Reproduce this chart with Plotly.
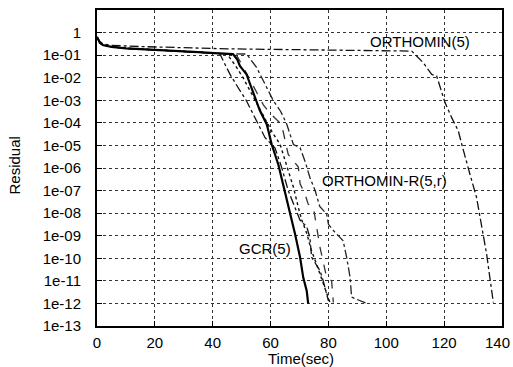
import plotly.graph_objects as go

# Shared start (all cluster runs)
t_head = [0, 1, 2, 5, 10, 15, 25, 35, 42]
r_head = [0.631, 0.355, 0.282, 0.234, 0.2, 0.182, 0.158, 0.135, 0.120]

# GCR(5) - solid thick
t_gcr = [47, 48.5, 49.4, 51.7, 52.9, 54.6, 56.3, 58.7, 60.4, 62.7, 64.4, 65.6, 67.3, 68.4, 70.2, 71.3, 72.5, 73]
r_gcr = [0.112, 6.3e-2, 3.3e-2, 1.4e-2, 5.1e-3, 1.3e-3, 3.5e-4, 8.5e-5, 1.1e-5, 1.4e-6, 1.9e-7, 3.5e-8, 6.3e-9, 1.3e-9, 1.1e-10, 1.4e-11, 3.6e-12, 1e-12]

# ORTHOMIN-R(5,r) variants
t_b = [42.5, 44.8, 46, 48.8, 51.7, 54, 56.3, 58.1, 61.5, 63.8, 66.1, 68.4, 70.2, 72.5, 73.6, 74.2, 77.1, 78.2, 80]
r_b = [0.112, 2.8e-2, 1.4e-2, 3.6e-3, 9.3e-4, 2.4e-4, 6.2e-5, 2.2e-5, 7.9e-6, 1.1e-6, 1e-7, 1.8e-8, 4.8e-9, 2.5e-9, 8.3e-10, 1.1e-10, 2.8e-11, 1e-11, 1.3e-12]

t_c = [45, 48, 50.5, 53, 55.5, 58, 60.5, 63.3, 65.6, 67.9, 69.6, 70.8, 72.5, 74, 76, 77.5, 79, 80.5]
r_c = [0.112, 3.2e-2, 1e-2, 2.5e-3, 6.3e-4, 1.6e-4, 4e-5, 1.1e-5, 1.1e-6, 1.4e-7, 1.8e-8, 4.8e-9, 1.3e-9, 2.5e-10, 5e-11, 1.3e-11, 4e-12, 1.1e-12]

t_d = [48, 50, 52.5, 55, 57.5, 60, 63.8, 66.1, 69.6, 70.2, 71.9, 73, 74.8, 77.1, 79.4, 81.1, 81.7]
r_d = [0.112, 4e-2, 1e-2, 2.5e-3, 6.3e-4, 2.5e-4, 8.5e-5, 4e-6, 1.1e-6, 2e-7, 7.1e-8, 2.5e-8, 1.8e-8, 3e-10, 1.4e-11, 1e-11, 1.1e-12]

t_e = [51.7, 55.2, 58.7, 61, 63.5, 65.6, 67.9, 70.2, 71.9, 73.6, 75.4, 77, 79.4, 80, 81.7, 85.1, 86.3, 87.5, 88, 90.9, 93.2]
r_e = [0.112, 2.8e-2, 3.6e-3, 9.3e-4, 3.2e-4, 8.7e-5, 1.1e-5, 7.9e-6, 2e-6, 3.8e-7, 1e-7, 2e-8, 9.1e-9, 3.2e-9, 1.7e-9, 5.9e-10, 1.1e-10, 1.4e-11, 1.9e-12, 1.3e-12, 1e-12]

# ORTHOMIN(5)
t_orth = [0, 1, 2, 5, 15, 30, 45, 70, 100, 108.8, 112.8, 115.7, 117.4, 118.6, 120.3, 122.6, 124.9, 126.1, 127.8, 128.9, 131.2, 132.4, 133.5, 134.7, 135.8, 137.0]
r_orth = [0.631, 0.4, 0.316, 0.27, 0.24, 0.21, 0.19, 0.174, 0.158, 0.151, 4.6e-2, 1.4e-2, 1.2e-2, 3.6e-3, 7.9e-4, 1.7e-4, 4.4e-5, 1.1e-5, 2e-6, 5.4e-7, 5e-8, 6.5e-9, 1e-9, 1.5e-10, 1.4e-11, 1.1e-12]

y_tickvals = [1e-13, 1e-12, 1e-11, 1e-10, 1e-9, 1e-8, 1e-7, 1e-6, 1e-5, 1e-4, 1e-3, 1e-2, 1e-1, 1]
y_ticktext = ["1e-13", "1e-12", "1e-11", "1e-10", "1e-09", "1e-08", "1e-07", "1e-06", "1e-05", "1e-04", "1e-03", "1e-02", "1e-01", "1"]
x_tickvals = [0, 20, 40, 60, 80, 100, 120, 140]
x_ticktext = ["0", "20", "40", "60", "80", "100", "120", ""]
x_last_label = "140"

fig = go.Figure()

def add(t, r, name, color, width, dash):
    fig.add_trace(go.Scatter(x=t, y=r, mode="lines", name=name,
                             line=dict(color=color, width=width, dash=dash)))

add(t_orth, r_orth, "ORTHOMIN(5)", "#111", 1.3, "dashdot")
add(t_head + t_e, r_head + r_e, "ORTHOMIN-R(5,r) a", "#222", 1.3, "dashdot")
add(t_head + t_d, r_head + r_d, "ORTHOMIN-R(5,r) b", "#333", 1.3, "dash")
add(t_head + t_c, r_head + r_c, "ORTHOMIN-R(5,r) c", "#111", 1.4, "dot")
add(t_head + t_b, r_head + r_b, "ORTHOMIN-R(5,r) d", "#111", 1.3, "dashdot")
add(t_head + t_gcr, r_head + r_gcr, "GCR(5)", "#000", 2.2, "solid")

font = dict(family="Liberation Sans, Arial, sans-serif", size=15, color="#000")

pw, ph = 513 - 97 - 11, 367 - 8 - 41

fig.update_layout(
    width=513, height=367,
    margin=dict(l=97, r=11, t=8, b=41),
    paper_bgcolor="white", plot_bgcolor="white",
    showlegend=False,
    font=font,
    xaxis=dict(range=[0, 140], tickvals=x_tickvals, ticktext=x_ticktext,
               ticks="inside", ticklen=5,
               tickcolor="#000", showline=True, linecolor="#000", linewidth=2,
               mirror=True, showgrid=True, gridcolor="#333", griddash="dot",
               gridwidth=1, zeroline=False, ticklabelstandoff=2),
    yaxis=dict(type="log", range=[-13, 1], tickvals=y_tickvals, ticktext=y_ticktext,
               ticks="inside", ticklen=5, tickcolor="#000", showline=True,
               linecolor="#000", linewidth=2, mirror=True, showgrid=True,
               gridcolor="#333", griddash="dot", gridwidth=1, zeroline=False,
               ticklabelstandoff=11),
    annotations=[
        dict(text="ORTHOMIN(5)", x=111.6, y=-0.38, xref="x", yref="y",
             showarrow=False, font=dict(size=15)),
        dict(text="ORTHOMIN-R(5,r)", x=99.5, y=-6.57, xref="x", yref="y",
             showarrow=False, font=dict(size=15)),
        dict(text="GCR(5)", x=58, y=-9.58, xref="x", yref="y",
             showarrow=False, font=dict(size=15)),
        dict(text="Time(sec)", x=(301 - 97) / pw, y=(367 - 41 - 359) / ph,
             xref="paper", yref="paper", xanchor="center", yanchor="middle",
             showarrow=False, font=dict(size=15)),
        dict(text="Residual", x=(4 - 97) / pw, y=(367 - 41 - 165) / ph,
             xref="paper", yref="paper", xanchor="left", yanchor="middle",
             showarrow=False, textangle=-90, font=dict(size=15)),
        dict(text=x_last_label, x=(512 - 97) / pw, xref="paper",
             y=(367 - 41 - 343) / ph, yref="paper",
             xanchor="right", yanchor="middle", showarrow=False,
             font=dict(size=15)),
    ],
)

fig.write_html("out.html")
